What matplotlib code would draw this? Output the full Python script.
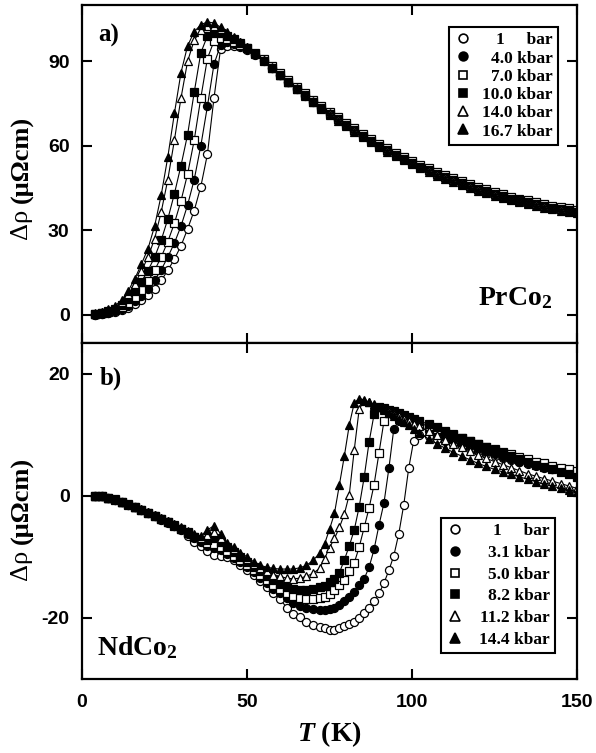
import matplotlib
matplotlib.use("Agg")
import matplotlib.pyplot as plt
from matplotlib.lines import Line2D

plt.rcParams['axes.unicode_minus'] = False
plt.rcParams['mathtext.fontset'] = 'custom'
plt.rcParams['mathtext.rm'] = 'Liberation Serif:bold'
plt.rcParams['mathtext.bf'] = 'Liberation Serif:bold'
plt.rcParams['mathtext.it'] = 'Liberation Serif:bold:italic'

# ---------------- Panel a) PrCo2 ----------------
T_a = [4, 6, 8, 10, 12, 14, 16, 18, 20, 22, 24, 26, 28, 30, 32, 34, 36, 38, 40, 42, 44, 46, 48, 50,
       52.5, 55, 57.5, 60, 62.5, 65, 67.5, 70, 72.5, 75, 77.5, 80, 82.5, 85, 87.5, 90, 92.5, 95, 97.5, 100,
       102.5, 105, 107.5, 110, 112.5, 115, 117.5, 120, 122.5, 125, 127.5, 130, 132.5, 135, 137.5, 140,
       142.5, 145, 147.5, 150]

labels_a = ["1     bar", "4.0 kbar", "7.0 kbar", "10.0 kbar", "14.0 kbar", "16.7 kbar"]

pr_1bar = [0.0, 0.2, 0.6, 1.0, 1.6, 2.5, 3.7, 5.2, 7.0, 9.2, 12.2, 15.8, 19.8, 24.5, 30.5, 37.0, 45.5, 57.0, 77.0, 94.5, 95.5, 95.6, 95.1, 94.2,
           92.3, 90.0, 87.5, 85.0, 82.5, 80.1, 77.8, 75.6, 73.4, 71.3, 69.3, 67.3, 65.4, 63.5, 61.7, 60.0, 58.4, 56.8, 55.3, 53.9,
           52.5, 51.2, 50.0, 48.8, 47.7, 46.6, 45.6, 44.6, 43.7, 42.8, 42.0, 41.2, 40.5, 39.8, 39.2, 38.6, 38.0, 37.5, 37.0, 36.5]
pr_4k = [0.1, 0.4, 0.8, 1.3, 2.1, 3.2, 4.8, 6.8, 9.2, 12.3, 16.0, 20.5, 25.5, 31.5, 39.0, 48.0, 60.0, 74.0, 89.0, 95.8, 96.7, 96.3, 95.5, 94.4,
         92.6, 90.3, 87.8, 85.3, 82.8, 80.4, 78.1, 75.9, 73.7, 71.6, 69.6, 67.6, 65.7, 63.8, 62.0, 60.3, 58.7, 57.1, 55.6, 54.2,
         52.8, 51.5, 50.3, 49.1, 48.0, 46.9, 45.9, 44.9, 44.0, 43.1, 42.3, 41.5, 40.8, 40.1, 39.5, 38.9, 38.3, 37.8, 37.3, 36.8]
pr_7k = [0.2, 0.5, 1.0, 1.7, 2.7, 4.2, 6.3, 8.9, 12.0, 15.8, 20.5, 26.0, 32.5, 40.5, 50.0, 62.0, 77.0, 91.0, 97.2, 98.2, 97.8, 96.9, 95.8, 94.7,
         93.0, 90.8, 88.3, 85.8, 83.3, 80.9, 78.6, 76.4, 74.2, 72.1, 70.1, 68.1, 66.2, 64.3, 62.5, 60.8, 59.2, 57.6, 56.1, 54.7,
         53.3, 52.0, 50.8, 49.6, 48.5, 47.4, 46.4, 45.4, 44.5, 43.6, 42.8, 42.0, 41.3, 40.6, 40.0, 39.4, 38.8, 38.3, 37.8, 37.3]
pr_10k = [0.3, 0.7, 1.3, 2.2, 3.5, 5.5, 8.3, 11.8, 15.7, 20.5, 26.5, 34.0, 43.0, 53.0, 64.0, 79.0, 93.0, 99.0, 100.3, 100.1, 99.1, 97.8, 96.4, 94.9,
          92.5, 90.1, 87.6, 85.1, 82.6, 80.2, 77.9, 75.7, 73.5, 71.4, 69.4, 67.4, 65.5, 63.6, 61.8, 60.1, 58.5, 56.9, 55.4, 54.0,
          52.6, 51.3, 50.1, 48.9, 47.8, 46.7, 45.7, 44.7, 43.8, 42.9, 42.1, 41.3, 40.6, 39.9, 39.3, 38.7, 38.1, 37.6, 37.1, 36.6]
pr_14k = [0.4, 0.9, 1.7, 2.8, 4.5, 7.3, 11.0, 15.5, 20.5, 27.0, 36.5, 48.0, 62.0, 77.0, 90.0, 97.5, 101.0, 102.5, 102.5, 101.4, 99.9, 98.3, 96.7, 95.1,
          92.8, 90.3, 87.8, 85.3, 82.8, 80.4, 78.1, 75.8, 73.6, 71.5, 69.4, 67.4, 65.5, 63.6, 61.8, 60.1, 58.5, 56.9, 55.4, 54.0,
          52.6, 51.3, 50.0, 48.8, 47.7, 46.6, 45.6, 44.6, 43.7, 42.8, 42.0, 41.2, 40.5, 39.8, 39.2, 38.6, 38.0, 37.5, 37.0, 36.6]
pr_16k = [0.5, 1.0, 2.0, 3.2, 5.2, 8.5, 12.8, 18.0, 23.5, 31.5, 42.5, 56.0, 71.5, 86.0, 95.5, 100.5, 103.0, 104.0, 103.6, 102.1, 100.3, 98.6, 96.9, 95.2,
          93.0, 90.5, 87.9, 85.3, 82.7, 80.2, 77.8, 75.5, 73.2, 71.0, 68.9, 66.9, 64.9, 63.0, 61.2, 59.5, 57.9, 56.3, 54.8, 53.4,
          52.0, 50.7, 49.4, 48.2, 47.1, 46.0, 45.0, 44.0, 43.1, 42.2, 41.4, 40.6, 39.9, 39.2, 38.6, 38.0, 37.4, 36.9, 36.4, 36.0]

# ---------------- Panel b) NdCo2 ----------------
T_b = [4, 6, 8, 10, 12, 14, 16, 18, 20, 22, 24, 26, 28, 30, 32, 34,
       36, 38, 40, 42, 44, 46, 48, 50, 52, 54, 56, 58, 60, 62, 64, 66, 68, 70, 72,
       73.5, 75, 76.5, 78, 79.5, 81, 82.5, 84, 85.5, 87, 88.5, 90, 91.5, 93, 94.5, 96, 97.5, 99, 100.5, 102,
       105, 107.5, 110, 112.5, 115, 117.5, 120, 122.5, 125, 127.5, 130, 132.5, 135, 137.5, 140, 142.5, 145, 147.5, 150]

labels_b = ["1     bar", "3.1 kbar", "5.0 kbar", "8.2 kbar", "11.2 kbar", "14.4 kbar"]

nd_1bar = [0.0, -0.1, -0.3, -0.7, -1.1, -1.5, -1.9, -2.3, -2.8, -3.3, -3.8, -4.3, -4.9, -5.6, -6.6, -7.5,
           -8.3, -9.1, -9.7, -9.9, -10.1, -10.6, -11.3, -12.1, -12.9, -13.9, -14.9, -15.9, -16.9, -18.3, -19.3, -19.9, -20.6, -21.1, -21.5,
           -21.7, -21.9, -21.9, -21.7, -21.4, -21.0, -20.6, -20.0, -19.2, -18.3, -17.2, -16.0, -14.3, -12.2, -9.8, -6.2, -1.5, 4.5, 9.0, 10.0,
           9.7, 9.3, 8.9, 8.5, 8.1, 7.7, 7.3, 6.9, 6.5, 6.1, 5.8, 5.5, 5.2, 4.9, 4.6, 4.3, 4.0, 3.7, 3.4]
nd_3k = [0.0, -0.1, -0.3, -0.7, -1.1, -1.5, -1.9, -2.4, -2.9, -3.4, -3.9, -4.4, -4.9, -5.5, -6.3, -7.0,
         -7.6, -8.3, -8.6, -8.9, -9.5, -10.2, -10.9, -11.7, -12.5, -13.4, -14.3, -15.2, -16.0, -16.8, -17.5, -18.0, -18.4, -18.6, -18.7,
         -18.7, -18.6, -18.4, -17.9, -17.3, -16.6, -15.8, -14.6, -13.6, -11.7, -8.8, -4.8, -1.2, 4.5, 11.0, 12.3, 12.1, 11.8, 11.5, 11.2,
         10.6, 10.1, 9.6, 9.1, 8.6, 8.1, 7.6, 7.2, 6.8, 6.4, 6.0, 5.6, 5.3, 5.0, 4.7, 4.4, 4.1, 3.8, 3.5]
nd_5k = [0.0, -0.1, -0.3, -0.6, -1.0, -1.4, -1.9, -2.3, -2.8, -3.3, -3.8, -4.3, -4.8, -5.4, -6.0, -6.7,
         -7.4, -7.8, -7.9, -8.4, -9.1, -9.8, -10.6, -11.4, -12.2, -13.0, -13.8, -14.6, -15.3, -15.9, -16.4, -16.7, -16.9, -16.9, -16.8,
         -16.5, -16.1, -15.4, -14.6, -13.8, -12.4, -11.0, -8.4, -5.2, -2.0, 1.8, 7.0, 12.2, 13.6, 13.4, 13.1, 12.8, 12.5, 12.2, 11.9,
         11.4, 10.9, 10.4, 9.9, 9.4, 8.9, 8.5, 8.0, 7.6, 7.2, 6.8, 6.4, 6.0, 5.6, 5.3, 4.9, 4.6, 4.3, 4.0]
nd_8k = [0.0, -0.1, -0.3, -0.7, -1.1, -1.5, -1.9, -2.3, -2.8, -3.3, -3.8, -4.3, -4.9, -5.5, -6.1, -6.7,
         -7.2, -7.3, -7.0, -7.6, -8.4, -9.2, -10.0, -10.8, -11.6, -12.4, -13.1, -13.8, -14.4, -14.9, -15.2, -15.4, -15.4, -15.3, -15.0,
         -14.7, -14.2, -13.6, -12.6, -10.5, -8.2, -5.6, -1.8, 3.0, 8.8, 13.3, 14.6, 14.4, 14.1, 13.8, 13.5, 13.2, 12.9, 12.6, 12.3,
         11.7, 11.2, 10.6, 10.1, 9.5, 9.0, 8.5, 8.0, 7.5, 7.0, 6.5, 6.0, 5.5, 5.1, 4.7, 4.3, 3.9, 3.5, 3.1]
nd_11k = [0.0, -0.1, -0.3, -0.6, -1.0, -1.4, -1.8, -2.2, -2.7, -3.2, -3.7, -4.2, -4.7, -5.3, -5.9, -6.5,
          -7.0, -6.5, -6.0, -6.9, -7.9, -8.8, -9.6, -10.4, -11.1, -11.8, -12.4, -12.9, -13.2, -13.5, -13.6, -13.5, -13.2, -12.7, -11.9,
          -10.3, -8.5, -7.0, -5.2, -3.0, 0.2, 7.5, 14.2, 15.5, 15.3, 15.0, 14.6, 14.2, 13.8, 13.4, 13.0, 12.6, 12.2, 11.8, 11.4,
          10.6, 9.9, 9.2, 8.5, 7.9, 7.3, 6.7, 6.1, 5.6, 5.1, 4.6, 4.1, 3.6, 3.2, 2.8, 2.4, 2.0, 1.6, 1.2]
nd_14k = [0.0, -0.1, -0.3, -0.6, -1.0, -1.4, -1.8, -2.2, -2.7, -3.2, -3.7, -4.2, -4.7, -5.2, -5.7, -6.2,
          -6.6, -5.6, -4.9, -6.2, -7.7, -8.4, -9.3, -10.0, -10.8, -11.4, -11.7, -11.9, -12.0, -12.0, -12.0, -11.8, -11.4, -10.6, -9.4,
          -7.9, -5.5, -2.9, 1.8, 6.5, 11.6, 15.2, 15.9, 15.7, 15.3, 14.9, 14.5, 14.0, 13.5, 13.0, 12.5, 12.0, 11.5, 10.9, 10.3,
          9.3, 8.5, 7.8, 7.1, 6.5, 5.9, 5.3, 4.8, 4.3, 3.9, 3.5, 3.1, 2.7, 2.3, 1.9, 1.6, 1.2, 0.9, 0.6]

series_a = [pr_1bar, pr_4k, pr_7k, pr_10k, pr_14k, pr_16k]
series_b = [nd_1bar, nd_3k, nd_5k, nd_8k, nd_11k, nd_14k]

# marker styles: (marker, filled)
styles = [('o', False), ('o', True), ('s', False), ('s', True), ('^', False), ('^', True)]
msizes = {'o': 5.8, 's': 5.3, '^': 6.0}

W, H = 596, 753
fig = plt.figure(figsize=(W / 100, H / 100), dpi=100)
ax1 = fig.add_axes([82 / W, 1 - 343 / H, 495 / W, 338 / H])
ax2 = fig.add_axes([82 / W, 1 - 679 / H, 495 / W, 336 / H])

tickfont = dict(family='Liberation Sans', weight='bold', size=14)
serif = 'Liberation Serif'


def draw(ax, T, series, labels):
    handles = []
    for vals, (m, filled), lab in zip(series, styles, labels):
        fc = 'black' if filled else 'white'
        ax.plot(T, vals, color='black', lw=0.8, marker=m, ms=msizes[m],
                mfc=fc, mec='black', mew=0.9)
        handles.append(Line2D([], [], ls='none', marker=m, ms=msizes[m] + 0.5,
                              mfc=fc, mec='black', mew=1.2, label=lab))
    return handles


h1 = draw(ax1, T_a, series_a, labels_a)
h2 = draw(ax2, T_b, series_b, labels_b)

for ax in (ax1, ax2):
    ax.set_xlim(0, 150)
    ax.set_xticks([0, 50, 100, 150])
    for s in ax.spines.values():
        s.set_linewidth(1.6)
    ax.tick_params(direction='in', length=7, width=1.5, top=True, right=True, pad=9)
    for lab in ax.get_xticklabels() + ax.get_yticklabels():
        lab.set_fontproperties(matplotlib.font_manager.FontProperties(**tickfont))

ax1.set_ylim(-10, 110)
ax1.set_yticks([0, 30, 60, 90])
ax1.tick_params(labelbottom=False)
ax2.set_ylim(-30, 25)
ax2.set_yticks([-20, 0, 20])
ax2.tick_params(axis='x', pad=11)
for lab in ax1.get_yticklabels() + ax2.get_yticklabels() + ax2.get_xticklabels():
    lab.set_fontproperties(matplotlib.font_manager.FontProperties(**tickfont))

# y labels: "Δρ" regular, "(μΩcm)" bold
for ax, ysplit in ((ax1, 0.414), (ax2, 0.402)):
    ax.text(-0.121, ysplit, "Δρ ", rotation=90, transform=ax.transAxes,
            ha='center', va='top', fontsize=19, family=serif)
    ax.text(-0.121, ysplit, "(μΩcm)", rotation=90, transform=ax.transAxes,
            ha='center', va='bottom', fontsize=19, family=serif, weight='bold')

ax2.set_xlabel(r"$\mathit{T}$ (K)", family=serif, weight='bold', fontsize=20, labelpad=6)

ax1.text(0.032, 0.911, "a)", transform=ax1.transAxes, family=serif, weight='bold',
         fontsize=18, va='center', ha='left')
ax2.text(0.036, 0.896, "b)", transform=ax2.transAxes, family=serif, weight='bold',
         fontsize=18, va='center', ha='left')
ax1.text(0.80, 0.112, r"PrCo$_\mathbf{2}$", transform=ax1.transAxes, family=serif,
         weight='bold', fontsize=20, va='baseline', ha='left')
ax2.text(0.03, 0.071, r"NdCo$_\mathbf{2}$", transform=ax2.transAxes, family=serif,
         weight='bold', fontsize=20, va='baseline', ha='left')

legprops = dict(family=serif, weight='bold', size=12.5)
leg1 = ax1.legend(handles=h1, loc='upper right', bbox_to_anchor=(0.9616, 0.935),
                  borderaxespad=0, frameon=True, fancybox=False, edgecolor='black',
                  prop=legprops, handlelength=1.0, handletextpad=0.6,
                  labelspacing=0.12, borderpad=0.3, numpoints=1)
leg2 = ax2.legend(handles=h2, loc='lower right', bbox_to_anchor=(0.9556, 0.0774),
                  borderaxespad=0, frameon=True, fancybox=False, edgecolor='black',
                  prop=legprops, handlelength=1.0, handletextpad=0.9,
                  labelspacing=0.32, borderpad=0.3, numpoints=1)
for leg in (leg1, leg2):
    leg.get_frame().set_linewidth(1.5)
    leg.get_frame().set_alpha(1)

# right-align legend labels
fig.canvas.draw()
for leg in (leg1, leg2):
    texts = leg.get_texts()
    widths = [t.get_window_extent().width for t in texts]
    wmax = max(widths)
    for t, w in zip(texts, widths):
        t.set_position((wmax - w, 0))

fig.savefig("out.png", dpi=100)
